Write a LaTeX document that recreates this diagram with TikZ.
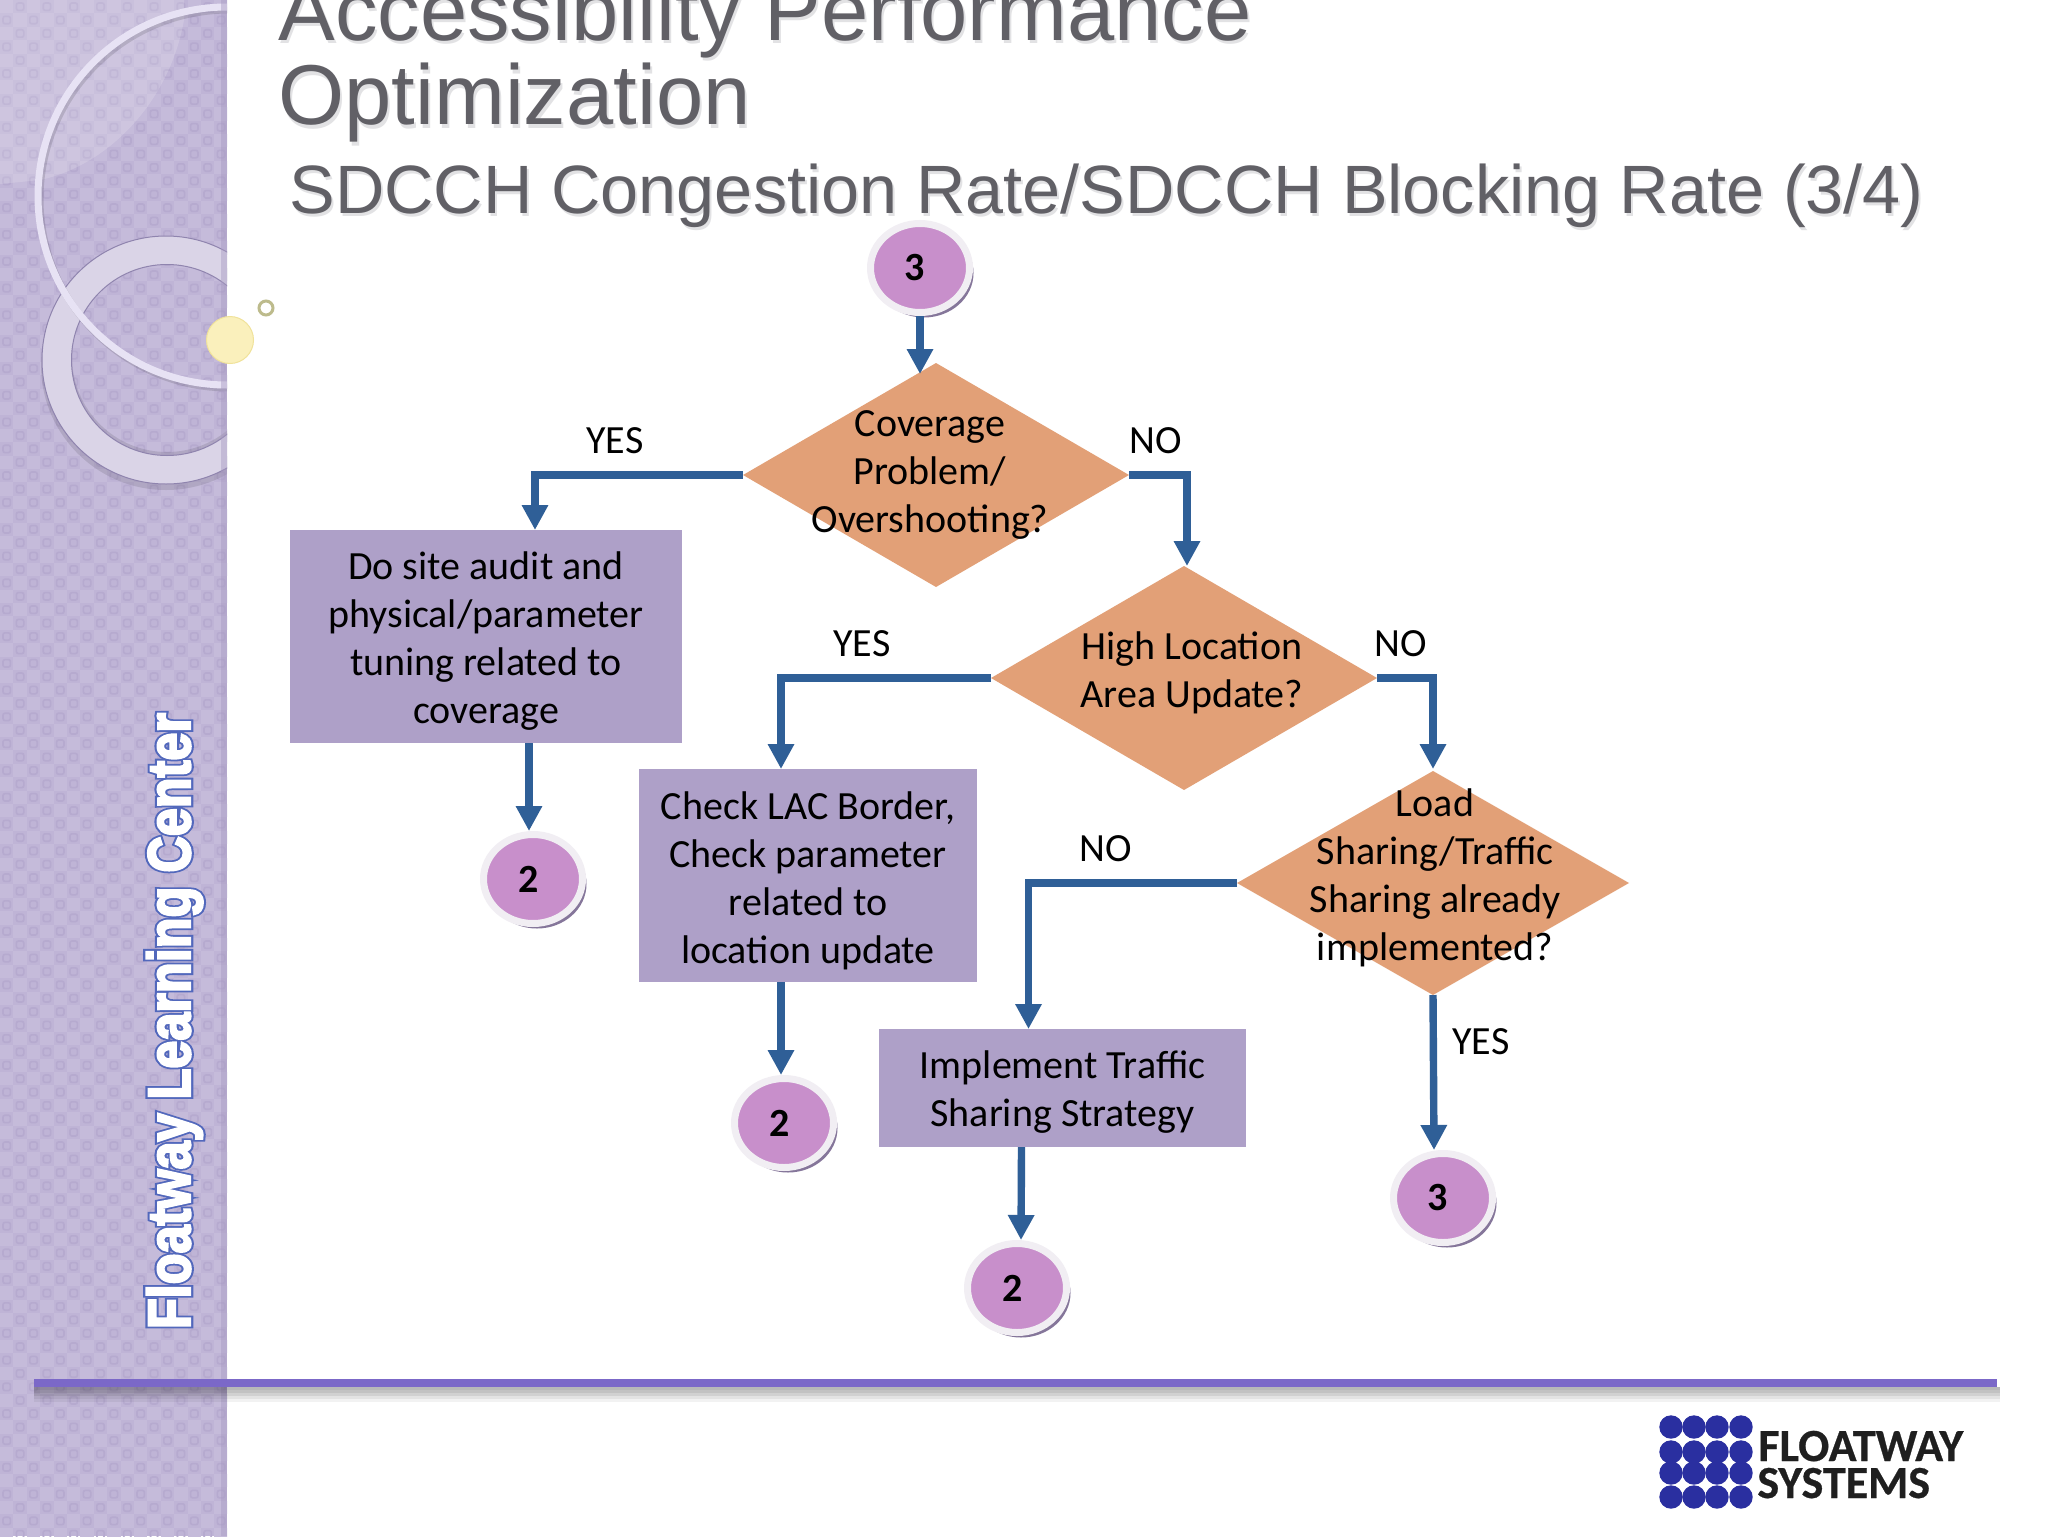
\documentclass[tikz,border=0pt]{standalone}
\usepackage{fontspec}
\setmainfont{Carlito}
\newfontfamily\arialf{Liberation Sans}
\newfontfamily\sideW[FakeBold=4]{Liberation Sans Bold}
\newfontfamily\sideH[FakeBold=11]{Liberation Sans Bold}
\newfontfamily\logof[FakeBold=0.6]{Carlito Bold}
\usetikzlibrary{arrows.meta,calc,shapes.geometric,shadows}
\definecolor{sidebase}{HTML}{BFB4D6}
\definecolor{sidelight}{HTML}{C5BBDA}
\definecolor{sidedark}{HTML}{B6AACF}
\definecolor{sideedge}{HTML}{A89BC2}
\definecolor{ringfill}{HTML}{DAD4E7}
\definecolor{ringedge}{HTML}{8F84AE}
\definecolor{thinring}{HTML}{E7E2F4}
\definecolor{titlegrey}{HTML}{616066}
\definecolor{titleshadow}{HTML}{E2E2E4}
\definecolor{boxfill}{HTML}{AEA0C8}
\definecolor{diamfill}{HTML}{E2A077}
\definecolor{circfill}{HTML}{C88FCB}
\definecolor{circedge}{HTML}{F1EEF3}
\definecolor{circshadow}{HTML}{85769A}
\definecolor{arrowblue}{HTML}{2F5F97}
\definecolor{rulepurple}{HTML}{7B68C8}
\definecolor{logoblue}{HTML}{2A2FA0}
\definecolor{halo}{HTML}{5268BC}
\definecolor{bubble}{HTML}{FAF0BC}
\definecolor{bubbleedge}{HTML}{F0E29A}
\definecolor{smallring}{HTML}{BDBB8C}
\newcommand{\dlabel}[4]{\makebox[0pt]{\hspace*{#1}\raisebox{#2}[0pt][0pt]{\begin{tabular}{@{}c@{}}#3\end{tabular}}\hspace*{#4}}}
\tikzset{
  x=0.5pt,y=-0.5pt,
  bodytext/.style={font=\fontsize{20}{24}\selectfont,text=black},
  procbox/.style={rectangle,fill=boxfill,inner sep=0pt,outer sep=0pt,bodytext},
  decis/.style={diamond,fill=diamfill,inner sep=0pt,outer sep=0pt,bodytext},
  conn/.style={ellipse,fill=circfill,draw=circedge,line width=3.5pt,minimum width=49.5pt,minimum height=44.5pt,inner sep=0pt,
     drop shadow={shadow xshift=2pt,shadow yshift=-2.5pt,fill=circshadow,opacity=1},
     font=\fontsize{20}{24}\selectfont\bfseries,text=black},
  flow/.style={draw=arrowblue,line width=3.7pt,-{Triangle[width=12.5pt,length=12.5pt]}},
  branch/.style={font=\fontsize{20}{24}\selectfont,text=black,inner sep=0pt},
}
\begin{document}
\begin{tikzpicture}
\clip (0,0) rectangle (2048,1536);
\fill[white] (0,0) rectangle (2048,1536);
% sidebar
\begin{scope}
\clip (0,0) rectangle (227,1536);
\fill[sidebase] (0,0) rectangle (227,1536);
\foreach \i in {0,...,16}{
  \foreach \j in {0,...,115}{
    \pgfmathtruncatemacro{\odd}{mod(\i+\j,2)}
    \ifnum\odd=0
      \fill[sidelight] ({\i*13.4},{\j*13.4}) rectangle ++(13.4,13.4);
    \else
      \draw[sidedark,line width=0.8pt,rounded corners=1pt] ({\i*13.4+3},{\j*13.4+3}) rectangle ++(7.4,7.4);
    \fi
  }
}
\fill[white,opacity=0.16] (0,0) -- (184,0) -- (184,20) .. controls (170,100) and (110,165) .. (40,180) -- (0,184) -- cycle;
% thick ring
\fill[black,opacity=0.10,even odd rule] (166,365) circle (125) (167,357) circle (95);
\draw[ringedge,line width=0.5pt,fill=ringfill,even odd rule] (166,360) circle (124) (167,360) circle (95.5);
% thin ring
\draw[black,opacity=0.12,line width=3.5pt] (229,199) circle (189);
\draw[thinring,line width=3.5pt] (227,196) circle (189);
\fill[sideedge,opacity=0.45] (221,0) rectangle (227,1536);
\end{scope}
% bubbles
\fill[bubble,draw=bubbleedge,line width=0.5pt] (230,340) circle (23.5);
\draw[smallring,line width=1.5pt] (266,308) circle (7);
% titles
\node[anchor=base west,inner sep=0pt,text=titleshadow,font=\arialf\fontsize{42.5}{48}\selectfont] at (280,44) {Accessibility Performance};
\node[anchor=base west,inner sep=0pt,text=titleshadow,font=\arialf\fontsize{42.5}{48}\selectfont] at (280,128) {Optimization};
\node[anchor=base west,inner sep=0pt,text=titleshadow,font=\arialf\fontsize{34.2}{36}\selectfont] at (291,216) {SDCCH Congestion Rate/SDCCH Blocking Rate (3/4)};
\node[anchor=base west,inner sep=0pt,text=titlegrey,font=\arialf\fontsize{42.5}{48}\selectfont] (title1) at (278,41) {Accessibility Performance};
\node[anchor=base west,inner sep=0pt,text=titlegrey,font=\arialf\fontsize{42.5}{48}\selectfont] (title2) at (278,125) {Optimization};
\node[anchor=base west,inner sep=0pt,text=titlegrey,font=\arialf\fontsize{34.2}{36}\selectfont] (title3) at (289,213) {SDCCH Congestion Rate/SDCCH Blocking Rate (3/4)};
% side label
\node[rotate=90,anchor=base,inner sep=0pt,text=halo,font=\sideH\fontsize{30}{30}\selectfont] at (190,1021) {\scalebox{0.84}[1]{Floatway Learning Center}};
\node[rotate=90,anchor=base,inner sep=0pt,text=white,font=\sideW\fontsize{30}{30}\selectfont] (side) at (190,1021) {\scalebox{0.84}[1]{Floatway Learning Center}};
% rule
\foreach \yy/\op in {1387/0.28,1390/0.24,1393/0.18,1396/0.11,1399/0.05}{
  \fill[black,opacity=\op] (34,\yy) rectangle (2000,\yy+3);
}
\fill[rulepurple] (34,1379) rectangle (1997,1387);
% logo
\foreach \px in {1671,1694,1717,1741}{
  \foreach \py in {1427,1452,1473,1497}{
    \fill[logoblue] (\px,\py) circle (11.7);
  }
}
\node[anchor=base west,inner sep=0pt,text=black!88,font=\logof\fontsize{23}{26}\selectfont] (logo1) at (1758,1461) {FLOATWAY};
\node[anchor=base west,inner sep=0pt,text=black!88,font=\logof\fontsize{23}{26}\selectfont] (logo2) at (1757,1498) {SYSTEMS};
% decisions
\node[decis,minimum width=193pt,minimum height=112pt] (d1) at (936,475)
  {\dlabel{0pt}{-5pt}{Coverage\\Problem/\\Overshooting?}{6pt}};
\node[decis,minimum width=193pt,minimum height=112pt] (d2) at (1184,678)
  {\dlabel{8pt}{-3.3pt}{High Location\\Area Update?}{0pt}};
\node[decis,minimum width=196pt,minimum height=112pt] (d3) at (1433,883)
  {\dlabel{2pt}{-3pt}{Load\\Sharing/Traffic\\Sharing already\\implemented?}{0pt}};
% process boxes
\node[procbox,minimum width=196pt,minimum height=106.5pt] (b1) at (486,636.5)
  {\dlabel{0pt}{-8pt}{Do site audit and\\physical/parameter\\tuning related to\\coverage}{0pt}};
\node[procbox,minimum width=169pt,minimum height=106.5pt] (b2) at (808,875.5)
  {\dlabel{0pt}{-8.4pt}{Check LAC Border,\\Check parameter\\related to\\location update}{0pt}};
\node[procbox,minimum width=183.5pt,minimum height=59pt] (b3) at (1062.5,1088)
  {\dlabel{0pt}{-7.7pt}{Implement Traffic\\Sharing Strategy}{0pt}};
% connector circles
\node[conn] (c0) at (920,268) {\hspace*{-5pt}\raisebox{-5.5pt}{3}};
\node[conn] (c1) at (533,879) {\hspace*{-4pt}\raisebox{-4.3pt}{2}};
\node[conn] (c2) at (784,1123) {\hspace*{-4pt}\raisebox{-4pt}{2}};
\node[conn] (c3) at (1017,1288) {\hspace*{-4pt}\raisebox{-4pt}{2}};
\node[conn] (c4) at (1443,1198) {\hspace*{-5pt}\raisebox{-4.5pt}{3}};
% connectors
\draw[flow] (c0.south) -- (c0.south |- d1.north) -- ++(0,11);
\draw[flow] (d1.west) -| ($(b1.north)+(49,0)$);
\draw[flow] (d1.east) -| ($(d2.north)+(3,0)$);
\draw[flow] ($(b1.south)+(43,0)$) -- ($(c1.north)+(-4,0)$);
\draw[flow] (d2.west) -| ($(b2.north)+(-27,0)$);
\draw[flow] (d2.east) -| ($(d3.north)+(0,-2)$);
\draw[flow] ($(b2.south)+(-27,0)$) -- ($(c2.north)+(-3,0)$);
\draw[flow] (d3.west) -| ($(b3.north)+(-34,0)$);
\draw[flow] ($(b3.south)+(-41,0)$) -- ($(c3.north)+(4,0)$);
\draw[flow] (d3.south) -- ($(c4.north)+(-9,0)$);
% branch labels
\node[branch] (l1) at (615,441) {YES};
\node[branch] (l2) at (1156,441) {NO};
\node[branch] (l3) at (862,644) {YES};
\node[branch] (l4) at (1401,644) {NO};
\node[branch] (l5) at (1106,849) {NO};
\node[branch] (l6) at (1481,1042) {YES};
\end{tikzpicture}
\end{document}
